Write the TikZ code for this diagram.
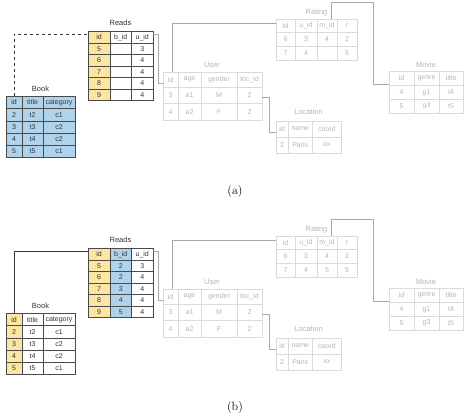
\documentclass[tikz,border=0pt]{standalone}
\usepackage{fontspec}
\newfontfamily\sansf{Liberation Sans}
\definecolor{yel}{HTML}{FCE6A4}
\definecolor{blu}{HTML}{B0D3EC}
\definecolor{dk}{HTML}{4A4A4A}
\definecolor{tk}{HTML}{333333}
\definecolor{lg}{HTML}{DADADA}
\definecolor{lt}{HTML}{B4B4B4}
\definecolor{cn}{HTML}{A8A8A8}
\tikzset{
  cell/.style={inner sep=0pt, font=\sansf\fontsize{7}{8}\selectfont},
  ttl/.style={font=\sansf\fontsize{7.5}{9}\selectfont, inner sep=0pt},
  faded/.code={\pgfkeysalso{draw=lg,text=lt,line width=0.5pt}},
  readsA/.code={\pgfkeysalso{draw=dk,text=tk,line width=0.6pt}\ifnum#1=1 \pgfkeysalso{fill=yel}\fi},
  readsB/.code={\pgfkeysalso{draw=dk,text=tk,line width=0.6pt}\ifnum#1=1 \pgfkeysalso{fill=yel}\fi\ifnum#1=2 \pgfkeysalso{fill=blu}\fi},
  bookA/.code={\pgfkeysalso{draw=dk,text=tk,line width=0.6pt,fill=blu}},
  bookB/.code={\pgfkeysalso{draw=dk,text=tk,line width=0.6pt}\ifnum#1=1 \pgfkeysalso{fill=yel}\fi},
  conn/.style={draw=cn, line width=0.6pt},
  linkA/.style={draw=tk, line width=0.7pt, dashed},
  linkB/.style={draw=tk, line width=0.7pt},
  capt/.style={font=\fontsize{12}{14}\selectfont, inner sep=0pt},
}
\newcommand\dbtable[5]{%
  \foreach \rowdata [count=\ri] in {#5} {
    \foreach \txt [count=\ci] in \rowdata {
      \pgfmathsetmacro\xl{{#3}[\ci-1]}
      \pgfmathsetmacro\xr{{#3}[\ci]}
      \pgfmathsetmacro\yt{{#4}[\ri-1]}
      \pgfmathsetmacro\yb{{#4}[\ri]}
      \node[cell, #2=\ci, minimum width=\xr-\xl, minimum height=\yb-\yt]
        (#1-\ri-\ci) at ({(\xl+\xr)/2},{(\yt+\yb)/2}) {\txt};
    }
  }
}
\newcommand\panel[7]{%
  \begin{scope}[shift={(0,#2)}]
    % Reads
    \node[ttl,text=tk] (#1rdT) at (120.5,23) {Reads};
    \dbtable{#1rd}{#3}{88,110,131.5,153}{31.5,43,54.5,66,77.5,89,100.5}{#5}
    % Book
    \node[ttl,text=tk] (#1bkT) at (40.5,89) {Book};
    \dbtable{#1bk}{#4}{6,22,43,75}{96.5,108.5,121,133.2,145.4,157.6}{{id,title,category},{2,t2,c1},{3,t3,c2},{4,t4,c2},{5,t5,c1}}
    % User
    \node[ttl,text=lt] (#1usT) at (212,65) {User};
    \dbtable{#1us}{faded}{163,178,201,237,262}{72,87.5,103.5,120}{{id,age,gender,loc\_id},{3,a1,M,2},{4,a2,F,2}}
    % Rating
    \node[ttl,text=lt] (#1rtT) at (316.5,12.5) {Rating};
    \dbtable{#1rt}{faded}{276,295,317,337,357}{19,32.5,46,60}{#6}
    % Movie
    \node[ttl,text=lt] (#1mvT) at (426,65) {Movie};
    \dbtable{#1mv}{faded}{389,414,439,463}{71,85.5,99.5,113}{{id,genre,title},{4,g1,t4},{5,g3,t5}}
    % Location
    \node[ttl,text=lt] (#1lcT) at (308.5,112) {Location};
    \dbtable{#1lc}{faded}{276,288,312.5,341}{121,137,153}{{id,name,coord},{2,Paris,xx}}
    % connectors
    \draw[#7] (#1bk-1-1.north) |- ([yshift=-3pt]#1rd-1-1.north west);
    \draw[conn] ([yshift=-3.5pt]#1rd-1-3.north east) -- ++(5pt,0) |- ([yshift=-12pt]#1us-1-1.north west);
    \draw[conn] ([xshift=1.5pt]#1us-1-1.north) |- ([yshift=-5pt]#1rt-1-1.north west);
    \coordinate (#1mvin) at ([yshift=-14pt]#1mv-1-1.north west);
    \draw[conn] ([xshift=4pt]#1rt-1-3.north) -- ++(0,16pt) -| ([xshift=-15pt]#1mvin) -- (#1mvin);
    \draw[conn] ([yshift=-2pt]#1us-2-4.east) -- ++(7pt,0) |- ([yshift=-12pt]#1lc-1-1.north west);
  \end{scope}
}
\begin{document}
\begin{tikzpicture}[x=1pt,y=-1pt]
  \useasboundingbox (0,0) rectangle (470,419);
  \panel{a}{0}{readsA}{bookA}%
    {{id,b\_id,u\_id},{5,{},3},{6,{},4},{7,{},4},{8,{},4},{9,{},4}}%
    {{id,u\_id,m\_id,r},{6,3,4,2},{7,4,{},5}}{linkA}
  \panel{b}{217}{readsB}{bookB}%
    {{id,b\_id,u\_id},{5,2,3},{6,2,4},{7,3,4},{8,4,4},{9,5,4}}%
    {{id,u\_id,m\_id,r},{6,3,4,2},{7,4,5,5}}{linkB}
  \node[capt] (capa) at (235,192) {(a)};
  \node[capt] (capb) at (235,408) {(b)};
\end{tikzpicture}
\end{document}
